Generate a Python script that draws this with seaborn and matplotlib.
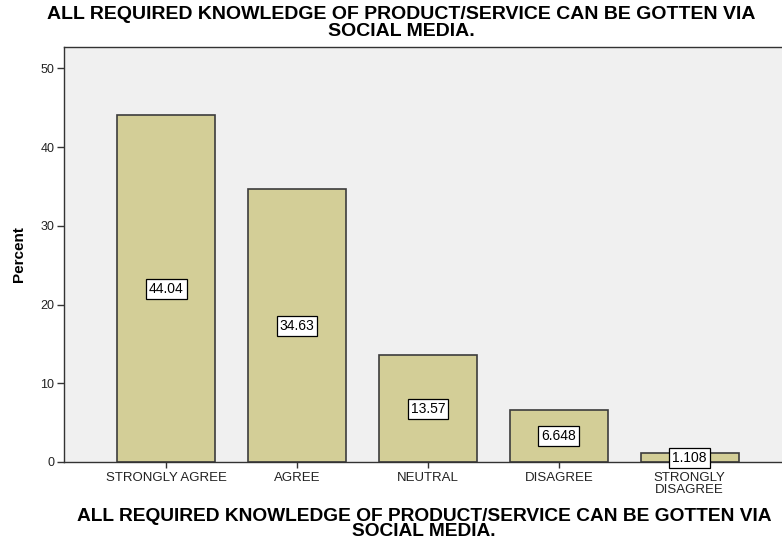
import matplotlib
matplotlib.use("Agg")
import matplotlib.pyplot as plt
import seaborn as sns
import pandas as pd

categories = ["STRONGLY AGREE", "AGREE", "NEUTRAL", "DISAGREE", "STRONGLY\nDISAGREE"]
percent = [44.04, 34.63, 13.57, 6.648, 1.108]
value_labels = ["44.04", "34.63", "13.57", "6.648", "1.108"]
yticks = [0, 10, 20, 30, 40, 50]
title = "ALL REQUIRED KNOWLEDGE OF PRODUCT/SERVICE CAN BE GOTTEN VIA\nSOCIAL MEDIA."

sns.set_theme(style="white")
plt.rcParams["font.family"] = ["Liberation Sans", "DejaVu Sans"]
plt.rcParams["text.color"] = "black"
plt.rcParams["axes.labelcolor"] = "black"

df = pd.DataFrame({"category": categories, "percent": percent})

fig = plt.figure(figsize=(7.82, 5.42), dpi=100)
ax = fig.add_axes([64 / 782, 80 / 542, 720 / 782, 415 / 542])
ax.set_facecolor("#F0F0F0")

sns.barplot(data=df, x="category", y="percent", ax=ax, color="#D3CE97",
            width=0.75, edgecolor="#3C3C3C", linewidth=1.2, saturation=1)

for i, (v, lab) in enumerate(zip(percent, value_labels)):
    ax.text(i, v / 2, lab, ha="center", va="center", fontsize=10, color="black",
            bbox=dict(boxstyle="square,pad=0.22", fc="white", ec="black", lw=0.9))

ax.set_ylim(0, 52.7)
ax.set_xlim(-0.78, 4.72)
ax.set_yticks(yticks)
ax.tick_params(axis="y", length=5, width=1, color="#333333", labelsize=9,
               labelcolor="#222222", pad=2, left=True)
ax.tick_params(axis="x", length=4, width=1, color="#333333", labelsize=9.5,
               labelcolor="#222222", pad=3, bottom=True)
for lab in ax.get_xticklabels():
    lab.set_linespacing(1.0)

for s in ax.spines.values():
    s.set_color("#333333")
    s.set_linewidth(1.0)

ax.set_ylabel("Percent", fontsize=11, fontweight="bold", labelpad=10)
ax.set_xlabel(title, fontsize=13.8, fontweight="bold", labelpad=9, linespacing=0.82)
fig.suptitle(title, fontsize=14, fontweight="bold", x=401 / 782, y=1 - 6 / 542,
             linespacing=1.0)

fig.savefig("out.png", dpi=100, facecolor="white")
